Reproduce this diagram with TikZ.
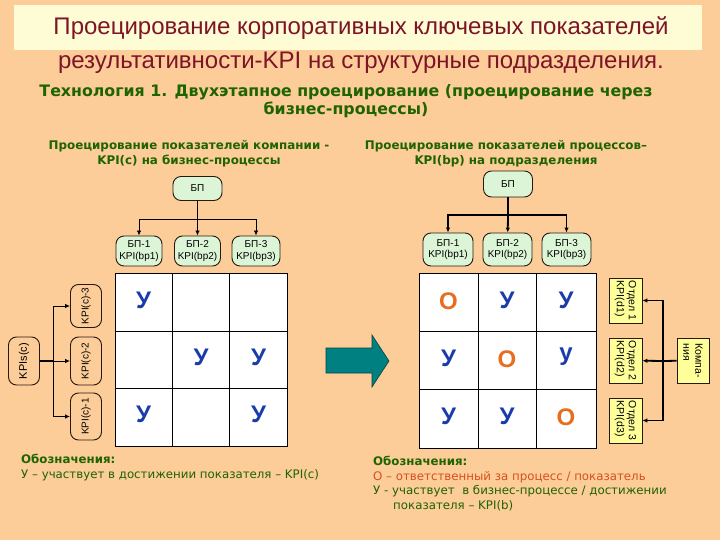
\documentclass[tikz,border=0pt]{standalone}
\usepackage{fontspec}
\setmainfont{Liberation Sans}
\newfontfamily\vfont{DejaVu Sans}
\usetikzlibrary{arrows.meta}
\definecolor{bgc}{RGB}{252,204,153}
\definecolor{titlebg}{RGB}{254,252,212}
\definecolor{titlec}{RGB}{125,20,40}
\definecolor{greenc}{RGB}{30,100,0}
\definecolor{nodegreen}{RGB}{220,245,215}
\definecolor{yelc}{RGB}{255,255,153}
\definecolor{tealc}{RGB}{0,128,128}
\definecolor{tealdark}{RGB}{0,70,70}
\definecolor{bluec}{RGB}{25,60,170}
\definecolor{orangec}{RGB}{230,110,30}
\definecolor{legorange}{RGB}{215,80,30}
\definecolor{edgec}{RGB}{40,25,15}
\tikzset{
  gbox/.style={draw=edgec, fill=nodegreen, rounded corners=8pt, line width=0.9pt, inner sep=1pt, align=center, font=\fontsize{10}{11.5}\selectfont},
  rbox/.style={draw=edgec, rounded corners=8pt, line width=0.9pt, inner sep=1pt, align=center, rotate=90, minimum height=31pt, font=\fontsize{10}{11}\selectfont},
  ybox/.style={draw=edgec, fill=yelc, line width=0.8pt, inner sep=1pt, align=left, rotate=-90, font=\fontsize{10.5}{12}\selectfont},
  conn/.style={draw=black, line width=0.9pt},
  tconn/.style={draw=black, line width=1.8pt},
  arr/.style={-{Latex[length=5pt,width=4.5pt]}},
  cellu/.style={text=bluec, font=\fontsize{24}{24}\selectfont\bfseries},
  cello/.style={text=orangec, font=\fontsize{24}{24}\selectfont\bfseries},
  grid/.style={draw=black, line width=1pt, fill=white},
  hdr/.style={text=greenc, align=center, font=\vfont\bfseries\fontsize{11.9}{15}\selectfont},
  legend/.style={anchor=north west, inner sep=0pt, align=left, text=greenc, font=\vfont\fontsize{11.8}{14.5}\selectfont},
}
\begin{document}
\begin{tikzpicture}[x=1pt,y=-1pt]
\useasboundingbox (0,0) rectangle (720,540);
\fill[bgc] (0,0) rectangle (720,540);
\fill[titlebg] (14,5) rectangle (702,50);
\node[text=titlec, font=\fontsize{24}{26}\selectfont] (t1) at (361,28) {Проецирование корпоративных ключевых показателей};
\node[text=titlec, font=\fontsize{24}{26}\selectfont] (t2) at (361,63) {результативности-KPI на структурные подразделения.};
\node[text=greenc, align=center, font=\vfont\bfseries\fontsize{15.8}{18}\selectfont] (sub) at (346,101) {Технология 1. Двухэтапное проецирование (проецирование через\\бизнес-процессы)};
\node[hdr] (lh) at (189,153.5) {Проецирование показателей компании -\\KPI(c) на бизнес-процессы};
\node[hdr] (rh) at (506,154) {Проецирование показателей процессов–\\KPI(bp) на подразделения};

% left tree
\node[gbox, minimum width=49pt, minimum height=24pt] (lbp) at (197.5,188.5) {БП};
\node[gbox, minimum width=46pt, minimum height=30pt] (lb1) at (139,251) {БП-1\\KPI(bp1)};
\node[gbox, minimum width=46pt, minimum height=30pt] (lb2) at (197.5,251) {БП-2\\KPI(bp2)};
\node[gbox, minimum width=48pt, minimum height=30pt] (lb3) at (256,251) {БП-3\\KPI(bp3)};
\coordinate (lj) at (197.5,219);
\draw[conn] (lbp) -- (lj);
\draw[conn, arr] (lj) -| (lb1);
\draw[conn, arr] (lj) -- (lb2);
\draw[conn, arr] (lj) -| (lb3);

% right tree
\node[gbox, minimum width=49pt, minimum height=26pt] (rbp) at (508,184) {БП};
\node[gbox, minimum width=50pt, minimum height=33pt] (rb1) at (448,249.5) {БП-1\\KPI(bp1)};
\node[gbox, minimum width=49pt, minimum height=33pt] (rb2) at (507.5,249.5) {БП-2\\KPI(bp2)};
\node[gbox, minimum width=49pt, minimum height=33pt] (rb3) at (566.5,249.5) {БП-3\\KPI(bp3)};
\coordinate (rj) at (508,215);
\draw[tconn] (rbp) -- (rj);
\draw[tconn, arr] (rj) -| (rb1);
\draw[tconn, arr] (rj) -- (rb2);
\draw[tconn, arr] (rj) -| (rb3);

% left grid
\draw[grid] (115,273) rectangle (287,446);
\draw[black, line width=1pt] (172,273) -- (172,446) (229.5,273) -- (229.5,446) (115,331) -- (287,331) (115,388.5) -- (287,388.5);
\node[cellu] (l11) at (143.5,300) {У};
\node[cellu] (l22) at (201,357) {У};
\node[cellu] (l23) at (258.5,357) {У};
\node[cellu] (l31) at (143.5,414) {У};
\node[cellu] (l33) at (258.5,414) {У};

% left side tree
\node[rbox, minimum width=48pt, font=\fontsize{11}{12}\selectfont] (kpis) at (24,361) {KPIs(c)};
\node[rbox, minimum width=43pt] (k3) at (86,306) {KPI(c)-3};
\node[rbox, minimum width=48pt] (k2) at (86,361) {KPI(c)-2};
\node[rbox, minimum width=47pt] (k1) at (86,416.5) {KPI(c)-1};
\coordinate (kj) at (53,361);
\draw[conn, line width=1.5pt] (kpis) -- (kj);
\draw[conn, arr] (kj) |- (k3);
\draw[conn, arr] (kj) -- (k2);
\draw[conn, arr] (kj) |- (k1);

% block arrow
\filldraw[fill=tealc, draw=tealdark, line width=0.6pt] (326,348) -- (372,348) -- (372,335) -- (389,361) -- (372,387) -- (372,373) -- (326,373) -- cycle;

% right grid
\draw[grid] (419,273) rectangle (596,448);
\draw[black, line width=1pt] (478,273) -- (478,448) (536,273) -- (536,448) (419,331) -- (596,331) (419,389) -- (596,389);
\node[cello] (r11) at (448.5,301) {О};
\node[cellu] (r12) at (507,300) {У};
\node[cellu] (r13) at (566,300) {У};
\node[cellu] (r21) at (448.5,358) {У};
\node[cello] (r22) at (507,359) {О};
\node[cellu] (r23) at (566,357) {у};
\node[cellu] (r31) at (448.5,416) {У};
\node[cellu] (r32) at (507,416) {У};
\node[cello] (r33) at (566,417) {О};

% right side tree
\node[ybox, minimum width=45pt, minimum height=33pt] (d1) at (625.5,300.5) {Отдел 1\\KPI(d1)};
\node[ybox, minimum width=45pt, minimum height=33pt] (d2) at (625.5,360.5) {Отдел 2\\KPI(d2)};
\node[ybox, minimum width=45pt, minimum height=33pt] (d3) at (625.5,420.5) {Отдел 3\\KPI(d3)};
\node[ybox, minimum width=45pt, minimum height=32pt] (comp) at (693,360.5) {Компа-\\ния};
\coordinate (cj) at (663,361);
\draw[tconn] (comp) -- (cj);
\draw[tconn, arr] (cj) |- (d1);
\draw[tconn, arr] (cj) -- (d2);
\draw[tconn, arr] (cj) |- (d3);

% legends
\node[legend] (leg1) at (21,454) {{\bfseries Обозначения:}\\У – участвует в достижении показателя – KPI(c)};
\node[legend] (leg2) at (373,456) {{\bfseries Обозначения:}\\\textcolor{legorange}{О – ответственный за процесс / показатель}\\У - участвует\ \ в бизнес-процессе / достижении\\\hspace*{20pt}показателя – KPI(b)};
\end{tikzpicture}
\end{document}
